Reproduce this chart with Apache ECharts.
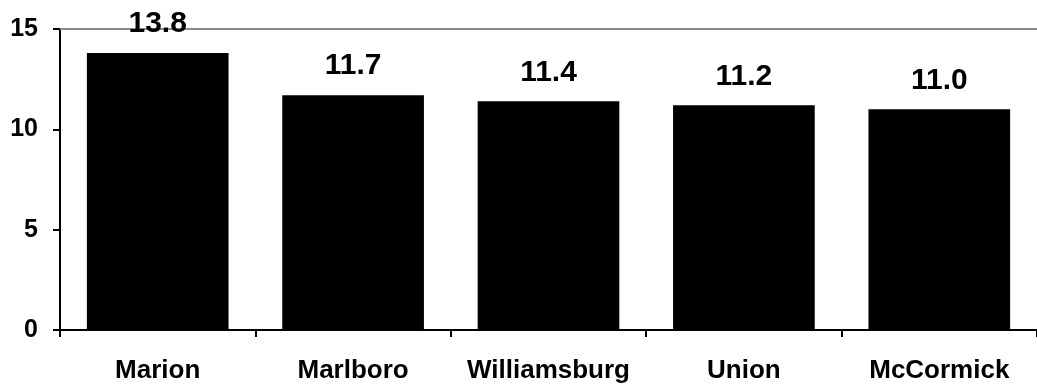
<!DOCTYPE html>
<html><head><meta charset="utf-8">
<script src="https://cdn.jsdelivr.net/npm/echarts@6/dist/echarts.min.js"></script>
<style>html,body{margin:0;padding:0;background:#fff}#c{width:1037px;height:385px}</style>
</head><body><div id="c"></div>
<script>
const categories = ["Marion", "Marlboro", "Williamsburg", "Union", "McCormick"];
const values = [13.8, 11.7, 11.4, 11.2, 11.0];
const yTicks = [0, 5, 10, 15];

const chart = echarts.init(document.getElementById('c'));
const font = 'Liberation Sans, Arial, sans-serif';
chart.setOption({
  animation: false,
  grid: { left: 60, top: 29, width: 987, height: 301, containLabel: false },
  xAxis: [{
    type: 'category', data: categories, position: 'bottom',
    axisLine: { lineStyle: { color: '#000', width: 2 } },
    axisTick: { show: true, interval: 0, length: 7, lineStyle: { color: '#000', width: 2 } },
    axisLabel: { interval: 0, color: '#000', fontFamily: font, fontWeight: 'bold', fontSize: 26, margin: 28 }
  }, {
    type: 'category', data: categories, position: 'top',
    axisLine: { lineStyle: { color: '#8c8c8c', width: 2 } },
    axisTick: { show: false }, axisLabel: { show: false }
  }],
  yAxis: {
    type: 'value', min: yTicks[0], max: yTicks[yTicks.length - 1], interval: 5,
    axisLine: { show: true, lineStyle: { color: '#000', width: 2 } },
    axisTick: { show: true, length: 7, lineStyle: { color: '#000', width: 2 } },
    splitLine: { show: false },
    axisLabel: { color: '#000', fontFamily: font, fontWeight: 'bold', fontSize: 25, margin: 22 }
  },
  series: [{
    type: 'bar', data: values, barWidth: '72.5%', xAxisIndex: 0,
    itemStyle: { color: '#000' },
    label: { show: true, position: 'top', distance: 14, color: '#000', fontFamily: font, fontWeight: 'bold', fontSize: 30,
      formatter: p => p.value.toFixed(1) }
  }]
});
</script></body></html>
